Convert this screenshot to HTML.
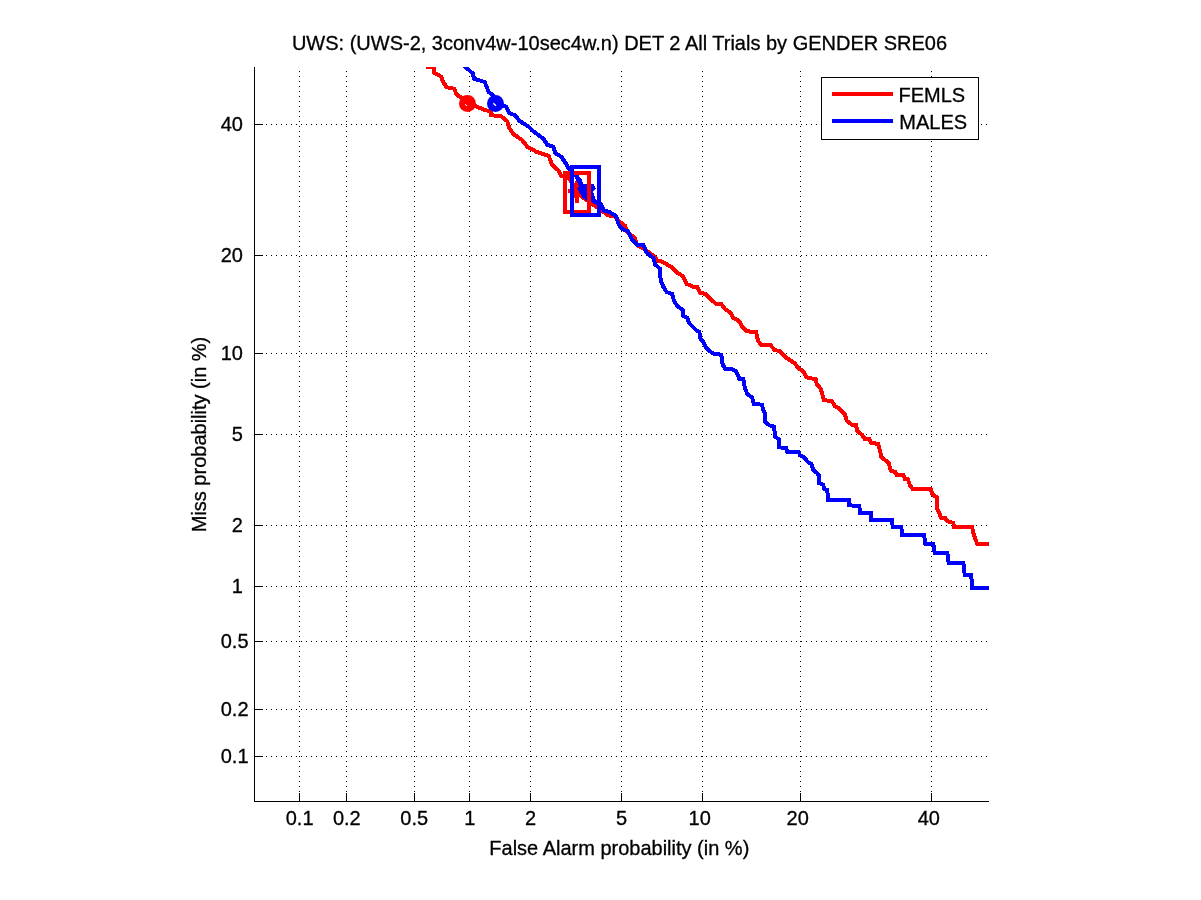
<!DOCTYPE html>
<html><head><meta charset="utf-8"><title>DET plot</title>
<style>
html,body{margin:0;padding:0;background:#fff;}
svg{display:block;}
text{font-family:"Liberation Sans",sans-serif;font-size:20px;fill:#000;stroke:#000;stroke-width:0.3px;}
</style></head><body>
<svg width="1201" height="900" viewBox="0 0 1201 900">
<rect width="1201" height="900" fill="#fff"/>

<g stroke="#000" stroke-width="1" stroke-dasharray="1 4" shape-rendering="crispEdges" fill="none">
<line x1="299.5" y1="802" x2="299.5" y2="67"/>
<line x1="256" y1="756.5" x2="989" y2="756.5"/>
<line x1="346.5" y1="802" x2="346.5" y2="67"/>
<line x1="256" y1="709.5" x2="989" y2="709.5"/>
<line x1="414.5" y1="802" x2="414.5" y2="67"/>
<line x1="256" y1="641.5" x2="989" y2="641.5"/>
<line x1="469.5" y1="802" x2="469.5" y2="67"/>
<line x1="256" y1="586.5" x2="989" y2="586.5"/>
<line x1="530.5" y1="802" x2="530.5" y2="67"/>
<line x1="256" y1="525.5" x2="989" y2="525.5"/>
<line x1="621.5" y1="802" x2="621.5" y2="67"/>
<line x1="256" y1="434.5" x2="989" y2="434.5"/>
<line x1="702.5" y1="802" x2="702.5" y2="67"/>
<line x1="256" y1="353.5" x2="989" y2="353.5"/>
<line x1="800.5" y1="802" x2="800.5" y2="67"/>
<line x1="256" y1="255.5" x2="989" y2="255.5"/>
<line x1="931.5" y1="802" x2="931.5" y2="67"/>
<line x1="256" y1="124.5" x2="989" y2="124.5"/>
</g>
<g stroke="#000" stroke-width="1" shape-rendering="crispEdges" fill="none">
<line x1="254.5" y1="67" x2="254.5" y2="802"/>
<line x1="254" y1="801.5" x2="989" y2="801.5"/>
<line x1="299.5" y1="801" x2="299.5" y2="793"/>
<line x1="255" y1="756.5" x2="263" y2="756.5"/>
<line x1="346.5" y1="801" x2="346.5" y2="793"/>
<line x1="255" y1="709.5" x2="263" y2="709.5"/>
<line x1="414.5" y1="801" x2="414.5" y2="793"/>
<line x1="255" y1="641.5" x2="263" y2="641.5"/>
<line x1="469.5" y1="801" x2="469.5" y2="793"/>
<line x1="255" y1="586.5" x2="263" y2="586.5"/>
<line x1="530.5" y1="801" x2="530.5" y2="793"/>
<line x1="255" y1="525.5" x2="263" y2="525.5"/>
<line x1="621.5" y1="801" x2="621.5" y2="793"/>
<line x1="255" y1="434.5" x2="263" y2="434.5"/>
<line x1="702.5" y1="801" x2="702.5" y2="793"/>
<line x1="255" y1="353.5" x2="263" y2="353.5"/>
<line x1="800.5" y1="801" x2="800.5" y2="793"/>
<line x1="255" y1="255.5" x2="263" y2="255.5"/>
<line x1="931.5" y1="801" x2="931.5" y2="793"/>
<line x1="255" y1="124.5" x2="263" y2="124.5"/>
</g>
<text transform="translate(299.6,825) scale(1,1.05)" text-anchor="middle">0.1</text>
<text transform="translate(248.5,762.7) scale(1,1.05)" text-anchor="end">0.1</text>
<text transform="translate(346.8,825) scale(1,1.05)" text-anchor="middle">0.2</text>
<text transform="translate(248.5,715.5) scale(1,1.05)" text-anchor="end">0.2</text>
<text transform="translate(414.2,825) scale(1,1.05)" text-anchor="middle">0.5</text>
<text transform="translate(248.5,648.1) scale(1,1.05)" text-anchor="end">0.5</text>
<text transform="translate(469.7,825) scale(1,1.05)" text-anchor="middle">1</text>
<text transform="translate(242.9,592.6) scale(1,1.05)" text-anchor="end">1</text>
<text transform="translate(530.5,825) scale(1,1.05)" text-anchor="middle">2</text>
<text transform="translate(242.9,531.8) scale(1,1.05)" text-anchor="end">2</text>
<text transform="translate(621.6,825) scale(1,1.05)" text-anchor="middle">5</text>
<text transform="translate(242.9,440.7) scale(1,1.05)" text-anchor="end">5</text>
<text transform="translate(699.7,825) scale(1,1.05)" text-anchor="middle">10</text>
<text transform="translate(242.9,359.8) scale(1,1.05)" text-anchor="end">10</text>
<text transform="translate(797.7,825) scale(1,1.05)" text-anchor="middle">20</text>
<text transform="translate(242.9,261.8) scale(1,1.05)" text-anchor="end">20</text>
<text transform="translate(928.8,825) scale(1,1.05)" text-anchor="middle">40</text>
<text transform="translate(242.9,130.7) scale(1,1.05)" text-anchor="end">40</text>
<defs><clipPath id="ax"><rect x="254" y="67" width="735" height="735"/></clipPath></defs><g clip-path="url(#ax)">
<polyline fill="none" stroke-width="4" stroke-linejoin="miter" shape-rendering="crispEdges" stroke="#f00" points="426.0,67.0 434.0,67.0 434.0,72.7 441.3,76.7 442.7,81.3 446.7,87.3 454.0,88.7 456.7,94.7 463.3,98.7 467.3,103.3 475.3,106.0 484.7,110.0 490.7,111.3 491.3,115.3 500.7,116.0 507.3,121.3 509.3,128.0 513.3,134.0 522.0,140.0 527.3,146.7 536.7,152.0 548.7,156.0 552.0,164.7 558.7,170.7 561.3,176.0 568.0,176.7 574.7,187.3 584.0,198.0 593.3,204.7 602.7,211.3 608.0,215.3 614.7,216.7 620.0,222.0 625.3,226.0 626.7,231.3 634.7,238.0 637.3,245.3 644.0,248.7 654.7,256.7 657.3,260.7 661.3,261.3 672.0,267.3 677.3,272.7 682.7,276.0 686.7,284.0 693.3,286.7 697.3,287.3 700.0,292.7 705.3,294.0 716.0,304.0 721.3,304.0 725.3,309.3 730.7,312.7 733.3,318.0 738.7,320.7 742.7,327.3 746.7,331.3 756.0,332.0 758.0,340.7 761.3,345.3 770.7,345.3 774.7,350.0 780.0,351.3 786.7,358.0 794.7,363.3 798.7,368.7 802.7,370.7 806.7,377.3 816.0,379.3 816.7,384.0 820.7,388.7 824.0,400.0 832.0,401.3 834.7,406.0 838.7,408.0 844.7,414.0 846.7,420.7 852.0,424.7 856.0,425.3 857.3,431.3 862.0,434.7 864.7,438.7 869.3,439.3 871.3,442.7 878.0,444.0 880.0,450.7 881.3,457.3 888.7,462.7 890.7,470.7 895.3,472.0 896.7,474.7 903.3,474.7 904.7,478.7 908.0,479.3 910.0,485.3 912.7,489.0 930.7,489.0 932.7,494.7 936.7,497.3 937.3,508.7 939.3,513.3 941.3,518.0 945.3,518.0 946.7,520.7 949.3,522.0 953.3,522.7 954.0,526.7 972.0,526.7 973.3,533.3 975.3,538.7 977.3,544.0 989.0,544.0"/>
<circle cx="467.5" cy="103.5" r="8.5" fill="#f00"/><line x1="465" y1="104.2" x2="467" y2="106" stroke="#fff" stroke-width="1"/>
<g stroke="#f00" stroke-width="4" shape-rendering="crispEdges"><line x1="568" y1="190.8" x2="587" y2="190.8"/><line x1="577.4" y1="181" x2="577.4" y2="203"/><line x1="571" y1="185.6" x2="583.8" y2="198.4"/><line x1="571" y1="198.4" x2="583.8" y2="185.6"/></g>
<circle cx="577.4" cy="192" r="5.5" fill="#f00"/>
<polyline fill="none" stroke-width="4" stroke-linejoin="miter" shape-rendering="crispEdges" stroke="#00f" points="464.5,66.3 467.3,68.7 472.7,73.3 474.0,78.7 484.7,82.0 488.7,92.0 495.3,97.3 497.0,103.3 506.0,106.7 509.3,113.3 515.3,115.3 519.3,120.7 528.7,126.7 532.7,130.7 543.3,138.7 547.3,144.7 553.3,146.7 555.3,153.3 561.3,156.7 566.7,164.7 568.7,168.7 576.0,175.3 580.0,180.7 582.7,188.7 592.0,194.0 593.3,200.7 601.3,204.7 604.0,210.7 609.3,212.0 616.0,216.0 618.7,224.7 622.7,229.3 628.0,231.3 632.0,239.3 637.3,244.7 643.3,245.3 646.7,252.7 653.3,258.0 655.3,264.7 660.0,268.7 660.7,280.7 663.3,286.7 666.7,292.0 672.0,294.0 674.0,300.7 677.3,306.0 682.7,310.0 683.3,316.0 687.3,318.0 689.3,323.3 696.0,330.0 699.3,332.0 700.7,339.3 703.3,342.0 706.0,348.0 712.0,352.7 714.7,354.0 721.3,354.7 722.7,364.7 725.3,368.7 732.0,369.3 736.0,371.3 739.3,378.7 743.3,379.3 744.7,387.3 747.3,394.0 752.0,397.3 754.0,404.0 762.0,404.7 763.3,410.0 765.3,414.0 765.3,422.0 769.3,425.3 774.0,426.7 775.3,436.7 778.7,439.3 779.3,447.3 786.0,448.0 787.3,452.0 798.7,452.0 800.0,455.3 803.3,456.7 808.0,462.0 811.3,464.0 813.3,470.0 816.7,472.7 819.3,476.0 819.3,483.3 823.3,484.7 824.0,488.7 827.3,490.0 828.0,500.0 848.7,500.0 849.3,505.3 859.3,506.0 860.0,512.7 870.7,512.7 871.3,520.0 892.0,520.0 892.7,526.7 901.3,526.7 902.0,534.7 924.0,534.7 925.3,543.7 933.3,543.7 934.7,552.7 947.3,552.7 948.7,562.7 963.3,562.7 964.7,574.7 971.3,574.7 972.0,587.7 989.0,587.7"/>
<circle cx="495.5" cy="103.5" r="8.5" fill="#00f"/><line x1="493.3" y1="103.2" x2="496" y2="105.8" stroke="#fff" stroke-width="1.3"/>
<polygon shape-rendering="crispEdges" fill="#00f" points="574.5,176 578,176 582,184 593.7,184 596,188.5 592.6,192.1 593.7,198.7 596.7,199.8 601.8,202.4 599,206 591.2,200.9 587.1,200.9 582.7,198 580.5,194.3 577,188.5 579,186.3 576,180"/>
</g>
<rect x="565" y="173" width="24" height="38.8" fill="none" stroke="#f00" stroke-width="4" shape-rendering="crispEdges"/>
<rect x="572" y="167" width="27" height="48" fill="none" stroke="#00f" stroke-width="4" shape-rendering="crispEdges"/>
<rect x="821.5" y="77.5" width="157" height="62" fill="#fff" stroke="#000" stroke-width="1" shape-rendering="crispEdges"/>
<line x1="832" y1="94" x2="893" y2="94" stroke="#f00" stroke-width="4" shape-rendering="crispEdges"/>
<line x1="832" y1="121" x2="893" y2="121" stroke="#00f" stroke-width="4" shape-rendering="crispEdges"/>
<text transform="translate(898.5,101.7) scale(1,1.05)">FEMLS</text>
<text transform="translate(899.3,128.7) scale(1,1.05)">MALES</text>
<text transform="translate(619.5,50) scale(1,1.05)" text-anchor="middle">UWS: (UWS-2, 3conv4w-10sec4w.n) DET 2 All Trials by GENDER SRE06</text>
<text transform="translate(619.3,854.7) scale(1,1.05)" text-anchor="middle">False Alarm probability (in %)</text>
<text transform="translate(206.4,434.5) rotate(-90) scale(1,1.05)" text-anchor="middle">Miss probability (in %)</text>
</svg></body></html>
